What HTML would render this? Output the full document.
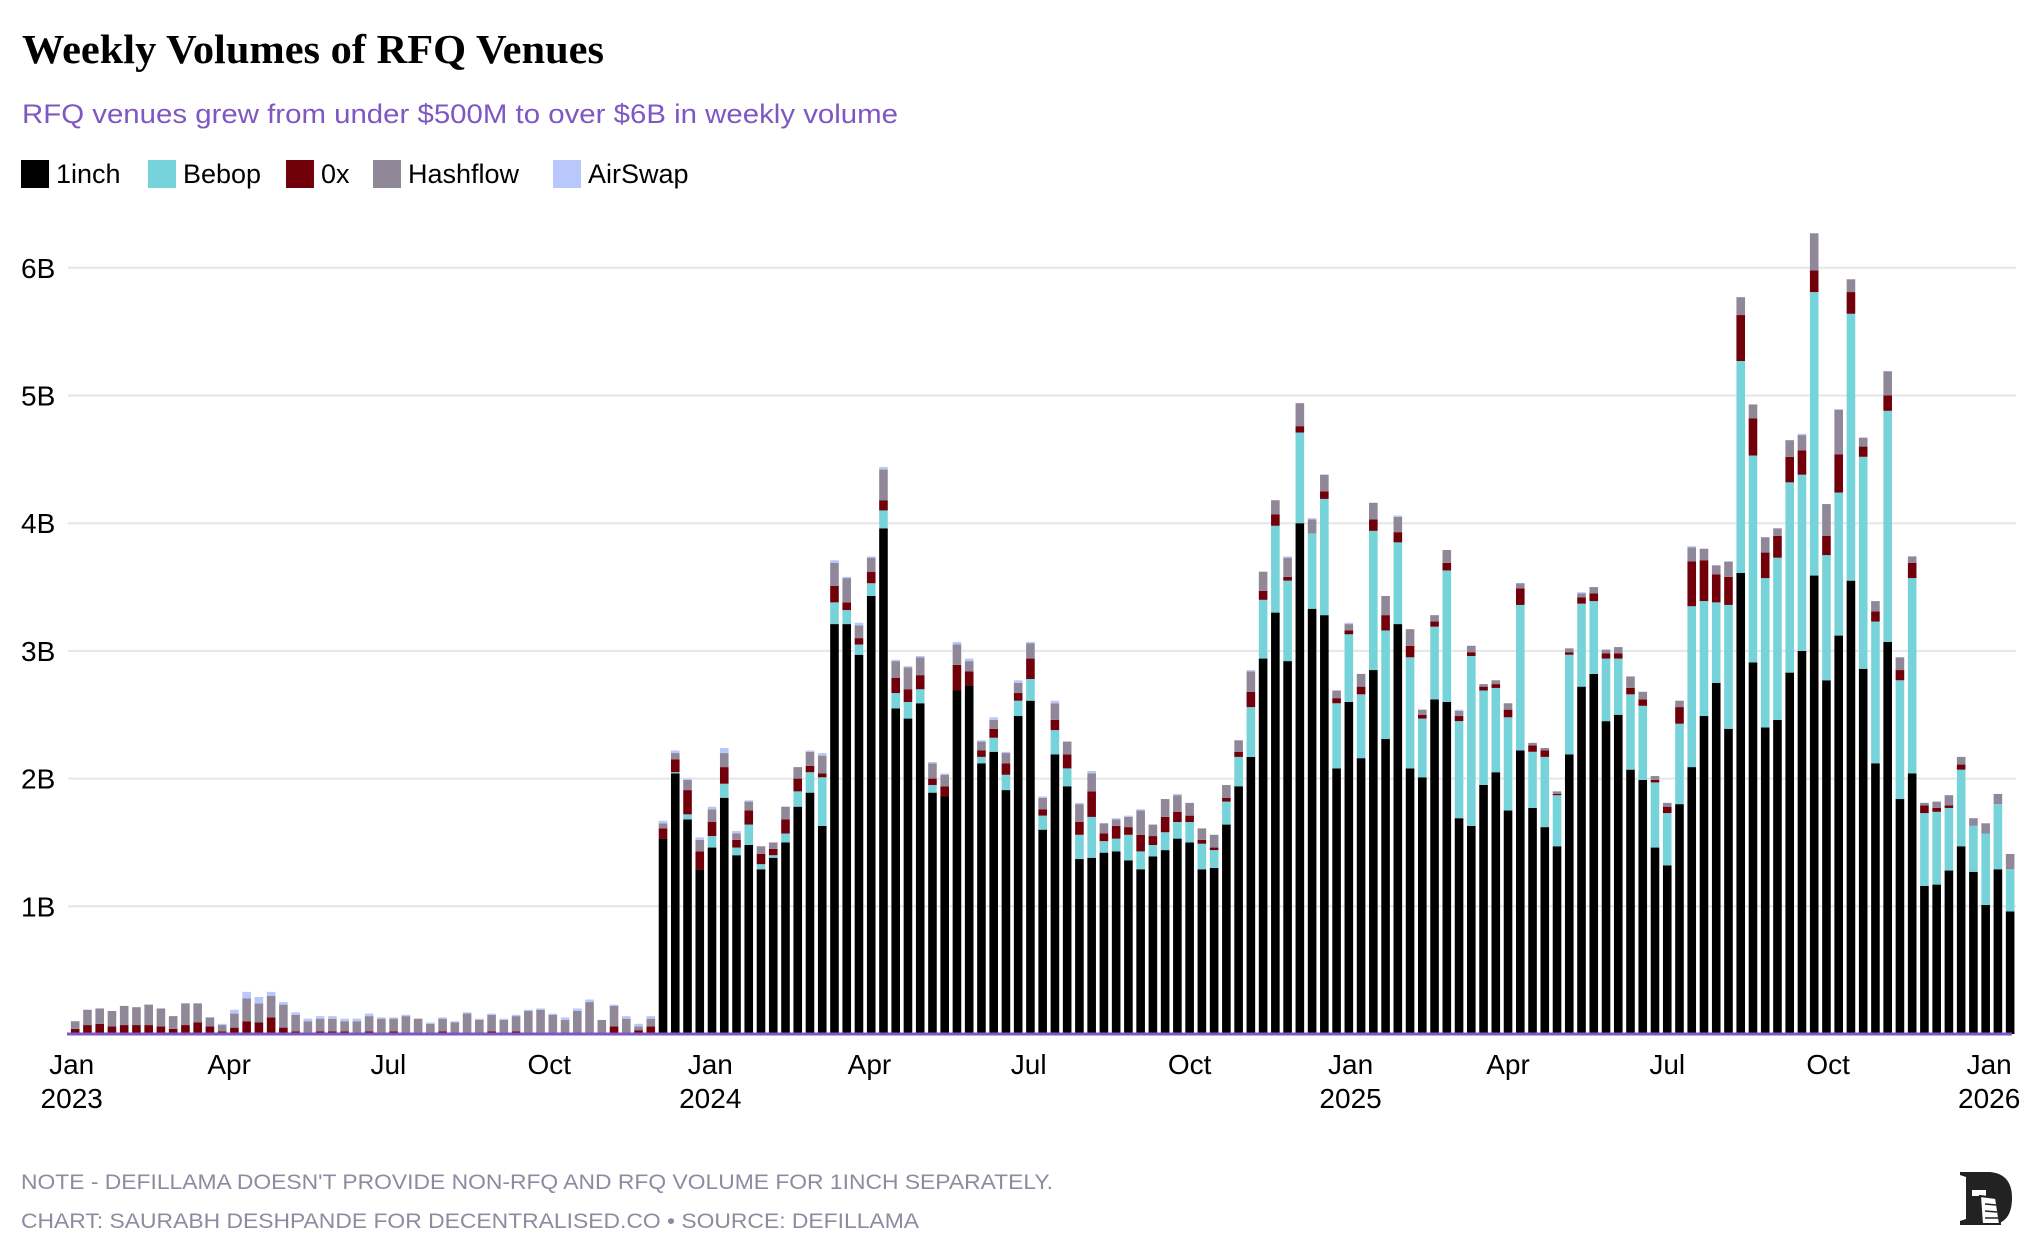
<!DOCTYPE html>
<html><head><meta charset="utf-8"><style>
html,body{margin:0;padding:0;background:#fff;}
svg{display:block;font-family:"Liberation Sans",sans-serif;}
</style></head><body>
<svg id="chart" width="2040" height="1252" viewBox="0 0 2040 1252" xmlns="http://www.w3.org/2000/svg">
<text x="22" y="63" font-family="Liberation Serif, serif" font-weight="bold" font-size="41" textLength="582" lengthAdjust="spacingAndGlyphs" fill="#000">Weekly Volumes of RFQ Venues</text>
<text x="22" y="123" font-size="27" textLength="876" lengthAdjust="spacingAndGlyphs" fill="#7e57c2">RFQ venues grew from under $500M to over $6B in weekly volume</text>
<g>
<g><rect x="21" y="160" width="28" height="28" fill="#000"/><text x="56" y="183" font-size="27">1inch</text></g>
<g><rect x="148" y="160" width="28" height="28" fill="#76d3d9"/><text x="183" y="183" font-size="27">Bebop</text></g>
<g><rect x="286" y="160" width="28" height="28" fill="#72000b"/><text x="321" y="183" font-size="27">0x</text></g>
<g><rect x="373" y="160" width="28" height="28" fill="#908898"/><text x="408" y="183" font-size="27">Hashflow</text></g>
<g><rect x="553" y="160" width="28" height="28" fill="#b9c8fb"/><text x="588" y="183" font-size="27">AirSwap</text></g>
</g>
<g id="grid"></g>
<g id="ylabels"></g>
<g id="bars"></g>
<line x1="67" y1="1034" x2="2012" y2="1034" stroke="#7e57c2" stroke-width="3"/>
<g id="xlabels"></g>
<text x="21" y="1189" font-size="21" fill="#8e8ba0" textLength="1032" lengthAdjust="spacingAndGlyphs">NOTE - DEFILLAMA DOESN'T PROVIDE NON-RFQ AND RFQ VOLUME FOR 1INCH SEPARATELY.</text>
<text x="21" y="1228" font-size="21" fill="#8e8ba0" textLength="898" lengthAdjust="spacingAndGlyphs">CHART: SAURABH DESHPANDE FOR DECENTRALISED.CO • SOURCE: DEFILLAMA</text>
<g>
<path d="M1960 1172 L1990 1172 Q2012 1174 2012 1198 Q2012 1224 1990 1225 L1960 1225 L1960 1221 L1966 1219 L1966 1177 L1960 1175 Z" fill="#222"/>
<rect x="1972" y="1190" width="14" height="6" fill="#fff"/>
<path d="M1980 1196 L1996 1198 L2000 1224 L1982 1224 Z" fill="#fff" stroke="#222" stroke-width="2"/>
<line x1="1985" y1="1204" x2="1996" y2="1205" stroke="#222" stroke-width="1.5"/>
<line x1="1985" y1="1211" x2="1997" y2="1212" stroke="#222" stroke-width="1.5"/>
<line x1="1985" y1="1218" x2="1998" y2="1218" stroke="#222" stroke-width="1.5"/>
</g>
</svg>
<script>
const inch = [0,0,0,0,0,0,0,0,0,0,0,0,0,0,0,0,0,0,0,0,0,0,0,0,0,0,0,0,0,0,0,0,0,0,0,0,0,0,0,0,0,0,0,0,0,0,0,0,
1.53,2.04,1.68,1.29,1.46,1.85,1.40,1.48,1.29,1.38,1.50,1.78,1.89,1.63,3.21,3.21,2.97,3.43,3.96,2.55,2.47,2.59,1.89,1.86,2.69,2.73,2.12,2.21,1.91,2.49,2.61,1.60,2.19,1.94,1.37,1.38,
1.42,1.43,1.36,1.29,1.39,1.44,1.53,1.50,1.29,1.30,1.64,1.94,2.17,2.94,3.30,2.92,4.00,3.33,3.28,2.08,2.60,2.16,2.85,2.31,3.21,2.08,2.01,2.62,2.60,1.69,1.63,1.95,2.05,1.75,2.22,
1.77,1.62,1.47,2.19,2.72,2.82,2.45,2.50,2.07,1.99,1.46,1.32,1.80,2.09,2.49,2.75,2.39,3.61,2.91,2.40,2.46,2.83,3.00,3.59,2.77,3.12,3.55,2.86,2.12,3.07,1.84,2.04,1.16,1.17,1.28,1.47,1.27,1.01,1.29,0.96];
const bebop = [0,0,0,0,0,0,0,0,0,0,0,0,0,0,0,0,0,0,0,0,0,0,0,0,0,0,0,0,0,0,0,0,0,0,0,0,0,0,0,0,0,0,0,0,0,0,0,0,
0,0.01,0.04,0,0.09,0.11,0.06,0.16,0.04,0.02,0.07,0.12,0.16,0.38,0.17,0.11,0.08,0.10,0.14,0.12,0.13,0.11,0.06,0,0,0,0.05,0.11,0.12,0.12,0.17,0.11,0.19,0.14,0.19,0.32,
0.09,0.10,0.20,0.14,0.09,0.14,0.13,0.16,0.20,0.14,0.18,0.23,0.39,0.46,0.68,0.63,0.71,0.59,0.91,0.51,0.53,0.50,1.09,0.85,0.64,0.87,0.46,0.57,1.03,0.76,1.33,0.74,0.66,0.73,1.14,
0.44,0.55,0.40,0.78,0.65,0.57,0.49,0.44,0.59,0.58,0.51,0.41,0.63,1.26,0.90,0.63,0.97,1.66,1.62,1.17,1.27,1.49,1.38,2.22,0.98,1.12,2.09,1.66,1.11,1.81,0.93,1.53,0.57,0.57,0.49,0.60,0.36,0.56,0.51,0.33];
const zerox = [.04,.07,.08,.06,.07,.07,.07,.06,.04,.07,.09,.06,.02,.05,.10,.09,.13,.05,.02,.01,.02,.02,.02,.01,.02,.01,.02,.01,.01,.01,.02,.01,.01,.01,.02,0,.02,0,0,0,0,0,0,0,.06,.01,.03,.06,
.08,.10,.19,.14,.11,.13,.06,.11,.08,.05,.11,.10,.05,.03,.13,.06,.05,.09,.08,.12,.10,.11,.05,.08,.20,.11,.05,.07,.09,.06,.16,.05,.08,.11,.10,.20,
.06,.10,.06,.13,.07,.12,.08,.05,.03,.02,.03,.04,.12,.07,.09,.03,.05,0,.06,.04,.03,.06,.09,.12,.08,.09,.03,.04,.06,.04,.03,.03,.03,.06,.13,
.05,.05,.01,.02,.05,.06,.04,.04,.05,.05,.02,.05,.13,.35,.32,.22,.22,.36,.29,.20,.17,.20,.19,.17,.15,.30,.17,.08,.08,.12,.08,.12,.06,.03,.02,.04,0,0,0,0];
const hashflow = [.06,.12,.12,.12,.15,.14,.16,.14,.10,.17,.15,.07,.05,.11,.18,.15,.17,.18,.13,.09,.10,.10,.08,.09,.12,.11,.10,.13,.11,.07,.10,.08,.15,.10,.13,.11,.12,.18,.19,.15,.11,.18,.25,.11,.16,.11,.03,.06,
.04,.05,.08,.09,.10,.11,.05,.07,.06,.05,.10,.09,.11,.14,.18,.19,.10,.11,.24,.13,.17,.14,.12,.09,.16,.08,.07,.07,.08,.08,.12,.09,.13,.10,.14,.14,
.08,.05,.08,.19,.09,.14,.13,.10,.09,.10,.10,.09,.16,.15,.11,.15,.18,.11,.13,.06,.05,.10,.13,.15,.12,.13,.04,.05,.10,.04,.05,.02,.03,.05,.04,
.02,.02,.02,.03,.03,.05,.03,.05,.09,.06,.03,.03,.05,.11,.09,.07,.12,.14,.11,.12,.06,.13,.12,.29,.25,.35,.10,.07,.08,.19,.10,.05,.02,.05,.08,.06,.06,.08,.08,.12];
const airswap = [0,0,0,0,0,0,0,0,0,0,0,0,.01,.03,.05,.05,.03,.02,.02,.02,.02,.02,.02,.02,.02,.01,.01,.01,0,.01,.01,.01,.01,.01,.01,.01,.01,.01,.01,.01,.02,.02,.02,0,.01,.02,.02,.02,
.02,.02,.01,.02,.02,.04,.02,.01,0,0,0,0,.01,.02,.02,.01,.02,.01,.02,.01,.01,.01,.01,.01,.02,.02,.01,.02,.01,.02,.01,.01,.02,0,.01,.02,
0,.01,.01,.01,0,0,.01,0,0,0,0,0,.01,0,0,.01,0,.01,0,0,.01,0,0,0,.01,0,0,0,0,.01,0,0,0,0,0,
0,0,0,0,.01,0,0,0,0,0,0,0,0,.01,0,0,0,0,0,0,0,0,.01,0,0,0,0,0,0,0,0,0,0,0,0,0,0,0,0,0];
const yTicks = [1,2,3,4,5,6];
const yTickLabels = ["1B","2B","3B","4B","5B","6B"];
const xTickDays = [0,90,181,273,365,456,547,639,731,821,912,1004,1096];
const xTickMonths = ["Jan","Apr","Jul","Oct","Jan","Apr","Jul","Oct","Jan","Apr","Jul","Oct","Jan"];
const xTickYears = ["2023","","","","2024","","","","2025","","","","2026"];
const firstWeekDay = 2;

const NS = "http://www.w3.org/2000/svg";
const x = d => 71.7 + d * 1.7495;
const y = v => 1034 - v * 127.7;
const barW = 8.6;
function mk(tag, attrs, parent){const e=document.createElementNS(NS,tag);for(const k in attrs)e.setAttribute(k,attrs[k]);parent.appendChild(e);return e;}

const grid = document.getElementById('grid');
const yl = document.getElementById('ylabels');
yTicks.forEach((t,i)=>{
  const l = mk('line',{x1:68,x2:2016,y1:y(t),y2:y(t),stroke:'#e6e6e6','stroke-width':2},grid);
  
  
  const tx = mk('text',{x:21,y:y(t)+10,'font-size':28,fill:'#000'},yl);
  tx.textContent = yTickLabels[i];
  
  
});

const xl = document.getElementById('xlabels');
xTickDays.forEach((d,i)=>{
  const t1 = mk('text',{x:x(d),y:1074,'font-size':28,'text-anchor':'middle',fill:'#000'},xl);
  t1.textContent = xTickMonths[i];
  
  
  if(xTickYears[i]){
    const t2 = mk('text',{x:x(d),y:1108,'font-size':28,'text-anchor':'middle',fill:'#000'},xl);
    t2.textContent = xTickYears[i];
    
    
  }
});

const series = [[inch,'#000000','1inch'],[bebop,'#76d3d9','bebop'],[zerox,'#72000b','0x'],[hashflow,'#908898','hashflow'],[airswap,'#b9c8fb','airswap']];
const bars = document.getElementById('bars');
for(let i=0;i<inch.length;i++){
  const cx = x(firstWeekDay + 7*i);
  let base = 0;
  series.forEach(([arr,col,nm])=>{
    const v = arr[i] || 0;
    if(v>0){
      const r = mk('rect',{x:cx-barW/2,y:y(base+v),width:barW,height:y(base)-y(base+v),fill:col},bars);
      
      
    }
    base += v;
  });
}
</script>
</body></html>
